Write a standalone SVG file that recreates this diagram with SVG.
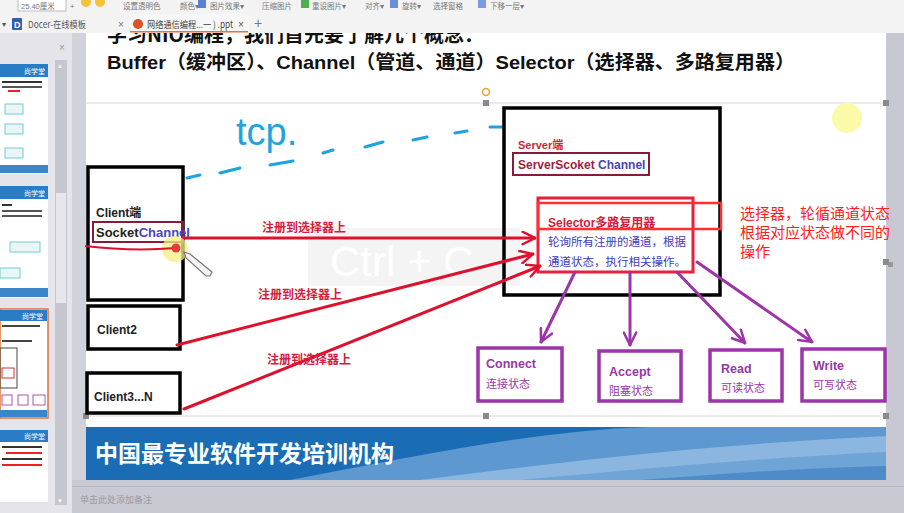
<svg xmlns="http://www.w3.org/2000/svg" width="904" height="513" viewBox="0 0 904 513">
<style>
.lat{font-family:"Liberation Sans","Noto Sans CJK SC",sans-serif}
.cjk{font-family:"Noto Sans CJK SC","Liberation Sans",sans-serif}
.blk{fill:none;stroke:#000;stroke-width:3.5}
.red{stroke:#e0102c;stroke-width:3;fill:none;stroke-linecap:round}
.pur{stroke:#9b35a8;stroke-width:3;fill:none;stroke-linecap:round}
.pbox{fill:none;stroke:#9b35a8;stroke-width:3.5}
.ptxt{fill:#9b35a8;font-weight:bold;font-size:12.5px}
.psub{fill:#9b35a8;font-size:11px}
.reg{fill:#d4203c;font-size:12px;font-weight:bold}
.tcp{stroke:#1ea3e0;stroke-width:3;stroke-linecap:round;fill:none}
.tb{fill:#777;font-size:7.5px}
.hdl{fill:#8a8a8a}
</style>
<defs>
<marker id="ar" viewBox="0 0 12 12" refX="11" refY="6" markerWidth="5" markerHeight="5" orient="auto" markerUnits="strokeWidth">
<path d="M1,1 L11,6 L1,11" fill="none" stroke="#e0102c" stroke-width="2" stroke-linecap="round"/>
</marker>
<marker id="ap" viewBox="0 0 12 12" refX="11" refY="6" markerWidth="5" markerHeight="5" orient="auto" markerUnits="strokeWidth">
<path d="M1,1 L11,6 L1,11" fill="none" stroke="#9b35a8" stroke-width="2" stroke-linecap="round"/>
</marker>
<clipPath id="slclip"><rect x="86" y="33" width="800" height="447"/></clipPath>
</defs>

<!-- window background -->
<rect x="0" y="0" width="904" height="513" fill="#dcdce3"/>

<!-- toolbar -->
<g id="toolbar">
<rect x="0" y="0" width="904" height="13" fill="#f3f3f3"/>
<rect x="18" y="-6" width="48" height="17" fill="#fff" stroke="#bbb"/>
<text class="lat tb" x="21" y="9">25.40厘米</text>
<text class="lat tb" x="70" y="9">+</text>
<circle cx="86" cy="2" r="5" fill="#f5c23a"/><circle cx="100" cy="2" r="5" fill="#f5c23a"/>
<text class="cjk tb" x="123" y="9">设置透明色</text>
<text class="cjk tb" x="180" y="9">颜色▾</text>
<rect x="198" y="0" width="8" height="8" fill="#5b7fd6"/>
<text class="cjk tb" x="210" y="9">图片效果▾</text>
<text class="cjk tb" x="262" y="9">压缩图片</text>
<rect x="301" y="0" width="8" height="8" fill="#4caf50"/>
<text class="cjk tb" x="312" y="9">重设图片▾</text>
<text class="cjk tb" x="365" y="9">对齐▾</text>
<rect x="390" y="0" width="8" height="8" fill="#6a8fd8"/>
<text class="cjk tb" x="402" y="9">旋转▾</text>
<text class="cjk tb" x="433" y="9">选择窗格</text>
<rect x="478" y="0" width="8" height="8" fill="#7a9be0"/>
<text class="cjk tb" x="490" y="9">下移一层▾</text>
</g>

<!-- tab bar -->
<g id="tabs">
<rect x="0" y="13" width="904" height="20" fill="#f3f3f3"/>
<text class="lat" x="2" y="27" font-size="8" fill="#555">▾</text>
<rect x="12" y="18" width="10" height="12" rx="1" fill="#2f5fb0"/>
<text class="lat" x="14" y="28" font-size="9" font-weight="bold" fill="#fff">D</text>
<text class="cjk" x="28" y="28" font-size="9.5" fill="#555" textLength="58" lengthAdjust="spacingAndGlyphs">Docer-在线模板</text>
<text class="lat" x="118" y="28" font-size="10" fill="#777">×</text>
<rect x="129" y="14" width="120" height="19" fill="#f7f7f7"/>
<circle cx="138" cy="24" r="5" fill="#d9532c"/>
<text class="cjk" x="147" y="28" font-size="9.5" fill="#444" textLength="86" lengthAdjust="spacingAndGlyphs">网络通信编程...一 ) .ppt</text>
<text class="lat" x="238" y="28" font-size="10" fill="#555">×</text>
<text class="lat" x="254" y="28" font-size="14" fill="#777">+</text>
<rect x="130" y="31" width="118" height="1.5" fill="#e8743c"/>
</g>

<!-- left thumbnails panel -->
<g id="thumbs">
<rect x="0" y="33" width="72" height="480" fill="#e4e4ea"/>
<rect x="72" y="33" width="14" height="447" fill="#d2d2da"/>
<text class="lat" x="59" y="51" font-size="10" fill="#999">×</text>
<rect x="55" y="60" width="12" height="445" fill="#c6c6d0"/>
<rect x="56" y="193" width="10" height="110" fill="#e6e6ec"/>
<text class="lat" x="57" y="68" font-size="6" fill="#fff">▲</text>
<text class="lat" x="57" y="503" font-size="6" fill="#fff">▼</text>
<!-- thumb 1 -->
<rect x="0" y="64" width="48" height="110" fill="#fff"/>
<rect x="0" y="64" width="48" height="13" fill="#2a7cc4"/>
<text class="cjk" x="24" y="74" font-size="7" fill="#fff">尚学堂</text>
<rect x="2" y="81" width="40" height="2" fill="#333"/><rect x="2" y="86" width="40" height="2" fill="#555"/><rect x="8" y="90" width="12" height="2" fill="#e22"/>
<rect x="5" y="104" width="18" height="10" fill="#e8f6f8" stroke="#7cc"/>
<rect x="5" y="124" width="18" height="10" fill="#e8f6f8" stroke="#7cc"/>
<rect x="5" y="148" width="18" height="10" fill="#e8f6f8" stroke="#7cc"/>
<rect x="0" y="165" width="48" height="8" fill="#3b86c8"/>
<!-- thumb 2 -->
<rect x="0" y="186" width="48" height="112" fill="#fff"/>
<rect x="0" y="186" width="48" height="13" fill="#2a7cc4"/>
<text class="cjk" x="24" y="196" font-size="7" fill="#fff">尚学堂</text>
<rect x="2" y="204" width="10" height="2" fill="#333"/><rect x="2" y="210" width="40" height="2" fill="#555"/><rect x="2" y="215" width="40" height="2" fill="#555"/>
<rect x="10" y="242" width="30" height="10" fill="#e8f6f8" stroke="#7cc"/>
<rect x="0" y="268" width="20" height="10" fill="#e8f6f8" stroke="#7cc"/>
<rect x="0" y="288" width="48" height="9" fill="#3b86c8"/>
<!-- thumb 3 selected -->
<rect x="0" y="309" width="48" height="109" fill="#fff" stroke="#e0743a" stroke-width="1.5"/>
<rect x="0" y="310" width="47" height="11" fill="#2a7cc4"/>
<text class="cjk" x="22" y="319" font-size="7" fill="#fff">尚学堂</text>
<rect x="2" y="325" width="38" height="2" fill="#444"/><rect x="2" y="340" width="30" height="2" fill="#444"/>
<rect x="0" y="348" width="17" height="40" fill="none" stroke="#444"/>
<rect x="2" y="368" width="12" height="10" fill="none" stroke="#c33"/>
<rect x="2" y="395" width="10" height="10" fill="none" stroke="#a5a"/><rect x="18" y="395" width="10" height="10" fill="none" stroke="#a5a"/><rect x="33" y="395" width="12" height="10" fill="none" stroke="#a5a"/>
<rect x="0" y="410" width="47" height="7" fill="#3b86c8"/>
<!-- thumb 4 -->
<rect x="0" y="430" width="48" height="72" fill="#fff"/>
<rect x="0" y="430" width="48" height="12" fill="#2a7cc4"/>
<text class="cjk" x="24" y="439" font-size="7" fill="#fff">尚学堂</text>
<rect x="2" y="446" width="40" height="2" fill="#333"/><rect x="6" y="452" width="36" height="2" fill="#e22"/><rect x="2" y="458" width="40" height="2" fill="#333"/><rect x="2" y="464" width="40" height="2" fill="#e22"/>
</g>

<!-- right gray and notes -->
<rect x="886" y="33" width="18" height="480" fill="#c8c8d2"/>
<rect x="888" y="262" width="5" height="5" fill="#999"/>
<g id="notes">
<rect x="72" y="480" width="832" height="33" fill="#c9c9d2"/>
<rect x="72" y="486" width="832" height="1" fill="#b8b8c2"/>
<text class="cjk" x="80" y="503" font-size="9" fill="#9a9aa4">单击此处添加备注</text>
</g>

<!-- slide -->
<g id="slide" clip-path="url(#slclip)">
<rect x="86" y="33" width="800" height="447" fill="#fff"/>
<text class="cjk" x="107" y="42" font-size="20" font-weight="bold" fill="#111">学习NIO编程，我们首先要了解几个概念：</text>
<text class="cjk" x="107" y="69" font-size="19" font-weight="bold" fill="#111" textLength="688" lengthAdjust="spacingAndGlyphs"><tspan class="lat">Buffer</tspan>（缓冲区）、<tspan class="lat">Channel</tspan>（管道、通道）<tspan class="lat">Selector</tspan>（选择器、多路复用器）</text>

<!-- footer -->
<g id="footer">
<rect x="86" y="427" width="800" height="53" fill="#1a6db4"/>
<path d="M290,480 C420,455 540,430 650,427 L886,427 L886,480 Z" fill="#5d98d0"/>
<path d="M420,480 C560,462 700,445 886,436 L886,480 Z" fill="#8ab6df"/>
<path d="M520,480 C650,468 760,458 886,452 L886,480 Z" fill="#6ea4d6"/>
<path d="M640,480 C720,474 800,468 886,466 L886,480 Z" fill="#4d8cc9"/>
<text class="cjk" x="95" y="462" font-size="23" font-weight="bold" fill="#fff">中国最专业软件开发培训机构</text>
</g>
</g>

<!-- selection frame -->
<g id="selection">
<line x1="86" y1="103" x2="886" y2="103" stroke="#d8d8d8" stroke-width="1"/>
<line x1="86" y1="416" x2="886" y2="416" stroke="#d8d8d8" stroke-width="1"/>
<rect class="hdl" x="483" y="100" width="6" height="6"/>
<rect class="hdl" x="883" y="100" width="6" height="6"/>
<rect class="hdl" x="883" y="259" width="6" height="6"/>
<rect class="hdl" x="883" y="413" width="6" height="6"/>
<rect class="hdl" x="483" y="413" width="6" height="6"/>
<rect class="hdl" x="83" y="413" width="6" height="6"/>
<circle cx="486" cy="92" r="3.5" fill="none" stroke="#f0a030" stroke-width="1.6"/>
</g>

<!-- ctrl+c overlay -->
<g id="ctrl-overlay" opacity="0.35">
<rect x="308" y="228" width="212" height="58" fill="#e2e2e2"/>
<text class="lat" x="330" y="276" font-size="42" fill="#ffffff">Ctrl + C</text>
</g>

<!-- tcp -->
<g id="tcp">
<path class="tcp" d="M187,178 L200,175 M220,173 L240,168 M270,165 L293,161 M323,153 L333,150 M365,147 L383,142 M413,140 L427,137 M455,133 L467,131 M490,127 L503,127"/>
<text class="lat" x="236" y="145" font-size="38" fill="#1ea3e0">tcp.</text>
</g>

<!-- nodes -->
<g id="client1">
<rect class="blk" x="88" y="167" width="95" height="133"/>
<text class="lat" x="96" y="217" font-size="12" font-weight="bold" fill="#222">Client端</text>
<rect x="93" y="222" width="90" height="20" fill="none" stroke="#8b1a3a" stroke-width="2"/>
<text class="lat" x="96" y="237" font-size="13" font-weight="bold" fill="#222">Socket<tspan fill="#4a44c0">Channel</tspan></text>
</g>
<g id="client2">
<rect class="blk" x="88" y="306" width="92" height="43"/>
<text class="lat" x="97" y="334" font-size="12" font-weight="bold" fill="#222">Client2</text>
</g>
<g id="client3">
<rect class="blk" x="87" y="373" width="93" height="40"/>
<text class="lat" x="94" y="401" font-size="12" font-weight="bold" fill="#222">Client3...N</text>
</g>

<g id="server">
<rect class="blk" x="504" y="108" width="216" height="187"/>
<text class="lat" x="518" y="149" font-size="11" font-weight="bold" fill="#c8283c">Server端</text>
<rect x="513" y="153" width="136" height="22" fill="none" stroke="#8b1a3a" stroke-width="2"/>
<text class="lat" x="518" y="169" font-size="12" font-weight="bold" fill="#a01c3c">ServerScoket <tspan fill="#4a44b0">Channel</tspan></text>
</g>

<g id="selector">
<rect x="538" y="198" width="155" height="74" fill="none" stroke="#e8203c" stroke-width="3"/>
<rect x="538" y="203" width="183" height="26" fill="none" stroke="#ff3030" stroke-width="2.5"/>
<text class="lat" x="548" y="227" font-size="12" font-weight="bold" fill="#d0203c">Selector多路复用器</text>
<text class="cjk" x="548" y="246" font-size="11.5" fill="#3c3cc0">轮询所有注册的通道，根据</text>
<text class="cjk" x="548" y="266" font-size="11.5" fill="#3c3cc0">通道状态，执行相关操作。</text>
</g>

<g id="annotation">
<text class="cjk" x="740" y="219" font-size="15" fill="#ff2020">选择器，轮循通道状态</text>
<text class="cjk" x="740" y="238" font-size="15" fill="#ff2020">根据对应状态做不同的</text>
<text class="cjk" x="740" y="257" font-size="15" fill="#ff2020">操作</text>
</g>

<g id="connect">
<rect class="pbox" x="478" y="348" width="84" height="53"/>
<text class="lat ptxt" x="486" y="368">Connect</text>
<text class="cjk psub" x="486" y="388">连接状态</text>
</g>
<g id="accept">
<rect class="pbox" x="599" y="351" width="82" height="50"/>
<text class="lat ptxt" x="609" y="376">Accept</text>
<text class="cjk psub" x="609" y="395">阻塞状态</text>
</g>
<g id="read">
<rect class="pbox" x="710" y="350" width="72" height="51"/>
<text class="lat ptxt" x="721" y="373">Read</text>
<text class="cjk psub" x="721" y="392">可读状态</text>
</g>
<g id="write">
<rect class="pbox" x="802" y="349" width="83" height="52"/>
<text class="lat ptxt" x="813" y="370">Write</text>
<text class="cjk psub" x="813" y="389">可写状态</text>
</g>

<!-- connectors -->
<g id="connectors">
<path class="red" d="M183,238 L535,238" marker-end="url(#ar)"/>
<path class="red" d="M177,345 L533,254" marker-end="url(#ar)"/>
<path class="red" d="M184,409 L540,266" marker-end="url(#ar)"/>
<text class="cjk reg" x="262" y="232">注册到选择器上</text>
<text class="cjk reg" x="258" y="299">注册到选择器上</text>
<text class="cjk reg" x="267" y="364">注册到选择器上</text>
<path class="pur" d="M575,272 L541,342" marker-end="url(#ap)"/>
<path class="pur" d="M630,272 L630,345" marker-end="url(#ap)"/>
<path class="pur" d="M677,272 L745,343" marker-end="url(#ap)"/>
<path class="pur" d="M697,262 L812,342" marker-end="url(#ap)"/>
</g>

<!-- pen marks / cursor -->
<g id="pen">
<circle cx="175" cy="249" r="13" fill="#f6ef80" opacity="0.75"/>
<path d="M85,246 C110,249 140,251 176,248" fill="none" stroke="#e0102c" stroke-width="2"/>
<circle cx="176" cy="248" r="4.5" fill="#e33a3a"/>
<path d="M184,252 L190,254 L212,272 L210,276 L206,276 L186,258 Z" fill="#f4f4f4" stroke="#777" stroke-width="1.2"/>
<circle cx="847" cy="118" r="15" fill="#fafaa8"/>
</g>
</svg>
